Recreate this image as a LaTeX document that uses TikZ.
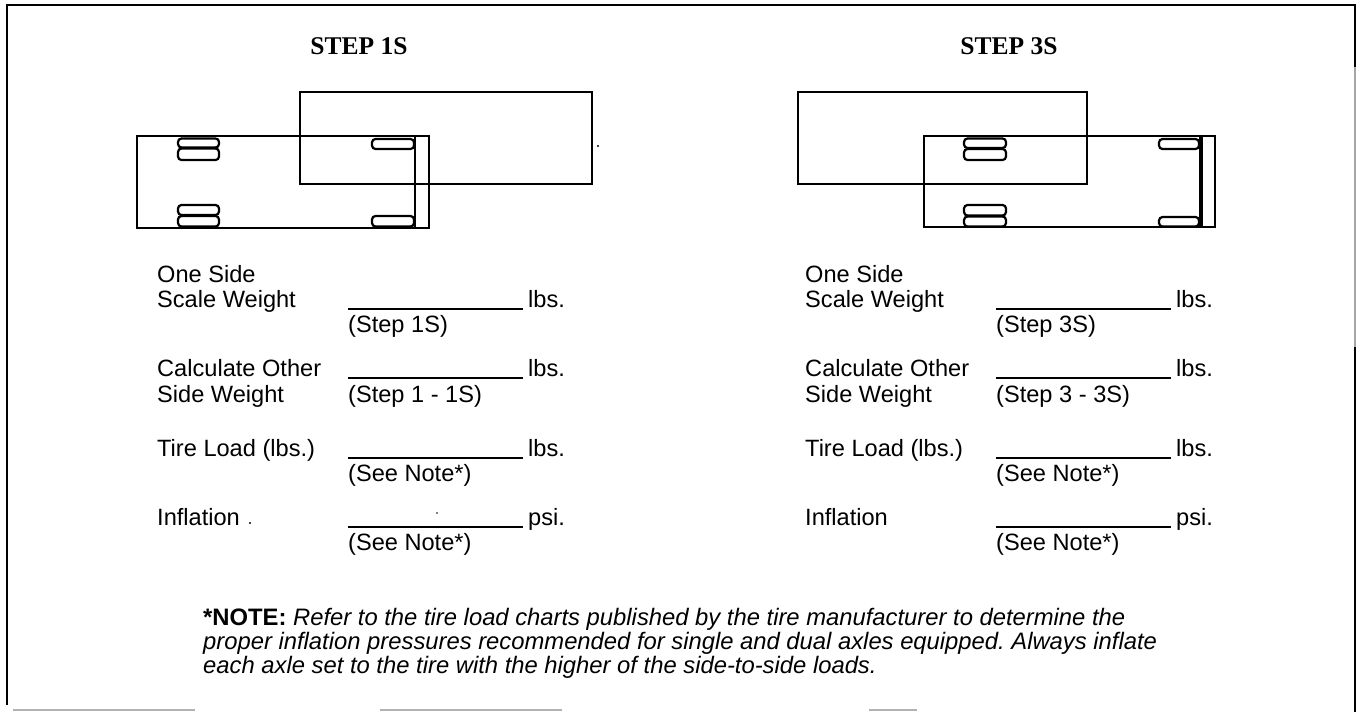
\documentclass[tikz,border=0pt]{standalone}
\usepackage{fontspec}
\setmainfont{Liberation Serif}
\setsansfont{Liberation Sans}
\frenchspacing
\begin{document}
\begin{tikzpicture}[x=1pt,y=-1pt,
  lab/.style={anchor=base west, inner sep=0pt, font=\sffamily\fontsize{23.6}{27}\selectfont},
  ttl/.style={anchor=base, inner sep=0pt, font=\rmfamily\bfseries\fontsize{25.5}{30}\selectfont},
  notetxt/.style={anchor=base west, inner sep=0pt, font=\sffamily\itshape\fontsize{23.8}{25}\selectfont},
  outline/.style={draw, line width=2.4pt},
  wheel/.style={draw, line width=2.2pt, rounded corners=3.5pt},
  blank/.style={line width=1.8pt},
  frame/.style={line width=2.2pt},
  speck/.style={fill=black}]
\useasboundingbox (0,0) rectangle (1356,712);
% frame
\draw[frame] (7,705) -- (7,5) -- (1355,5) -- (1355,67);
\draw[frame, black!35] (1355,67) -- (1355,347);
\draw[frame] (1355,347) -- (1355,712);
\draw[line width=2pt, black!30] (13,710) -- (195,710) (380,710) -- (562,710) (869,710) -- (917,710);

% ---------- STEP 1S ----------
\node[ttl] (t1) at (359,54) {STEP 1S};
\draw[outline] (300,92) rectangle (592,184);
\draw[outline] (137,136) rectangle (429,228);
\draw[line width=2pt] (415,136) -- (415,228);
\draw[wheel] (178,138.5) rectangle (219,147.5);
\draw[wheel] (178,148.5) rectangle (219,160);
\draw[wheel] (178,205) rectangle (219,215);
\draw[wheel] (178,216) rectangle (219,226.5);
\draw[wheel] (372,139) rectangle (414,149);
\draw[wheel] (372,216) rectangle (414,226.5);
\fill[speck] (598,146) circle (1.2);

% ---------- STEP 3S ----------
\node[ttl] (t3) at (1009,54) {STEP 3S};
\draw[outline] (798,92) rectangle (1087,184);
\draw[outline] (924,136) rectangle (1215,227);
\draw[line width=3.4pt] (1201,136) -- (1201,227);
\draw[wheel] (964,138.5) rectangle (1006,148);
\draw[wheel] (964,149) rectangle (1006,160);
\draw[wheel] (964,205) rectangle (1006,215.5);
\draw[wheel] (964,216.5) rectangle (1006,226.5);
\draw[wheel] (1159,139) rectangle (1199,149);
\draw[wheel] (1159,217) rectangle (1199,226.5);

% ---------- left form ----------
\node[lab] (a1) at (157,282) {One Side};
\node[lab] (a2) at (157,307) {Scale Weight};
\draw[blank] (348,309) -- (523,309);
\node[lab] (a3) at (528,307) {lbs.};
\node[lab] (a4) at (348,332) {(Step 1S)};
\node[lab] (b1) at (157,376) {Calculate Other};
\draw[blank] (348,378) -- (523,378);
\node[lab] (b2) at (528,376) {lbs.};
\node[lab] (b3) at (157,402) {Side Weight};
\node[lab] (b4) at (348,402) {(Step 1 - 1S)};
\node[lab] (c1) at (157,456) {Tire Load (lbs.)};
\draw[blank] (348,458) -- (523,458);
\node[lab] (c2) at (528,456) {lbs.};
\node[lab] (c3) at (348,481) {(See Note*)};
\node[lab] (d1) at (157,525) {Inflation};
\draw[blank] (348,527) -- (523,527);
\node[lab] (d2) at (528,525) {psi.};
\node[lab] (d3) at (348,550) {(See Note*)};
\fill[speck] (250,523) circle (1.1);
\fill[speck] (437,513) circle (0.8);

% ---------- right form ----------
\node[lab] (e1) at (805,282) {One Side};
\node[lab] (e2) at (805,307) {Scale Weight};
\draw[blank] (996,309) -- (1171,309);
\node[lab] (e3) at (1176,307) {lbs.};
\node[lab] (e4) at (996,332) {(Step 3S)};
\node[lab] (f1) at (805,376) {Calculate Other};
\draw[blank] (996,378) -- (1171,378);
\node[lab] (f2) at (1176,376) {lbs.};
\node[lab] (f3) at (805,402) {Side Weight};
\node[lab] (f4) at (996,402) {(Step 3 - 3S)};
\node[lab] (g1) at (805,456) {Tire Load (lbs.)};
\draw[blank] (996,458) -- (1171,458);
\node[lab] (g2) at (1176,456) {lbs.};
\node[lab] (g3) at (996,481) {(See Note*)};
\node[lab] (h1) at (805,525) {Inflation};
\draw[blank] (996,527) -- (1171,527);
\node[lab] (h2) at (1176,525) {psi.};
\node[lab] (h3) at (996,550) {(See Note*)};

% ---------- note ----------
\node[notetxt] (n1) at (203,625) {{\upshape\bfseries *NOTE:} Refer to the tire load charts published by the tire manufacturer to determine the};
\node[notetxt] (n2) at (203,649) {proper inflation pressures recommended for single and dual axles equipped. Always inflate};
\node[notetxt] (n3) at (203,673) {each axle set to the tire with the higher of the side-to-side loads.};
\end{tikzpicture}
\end{document}
